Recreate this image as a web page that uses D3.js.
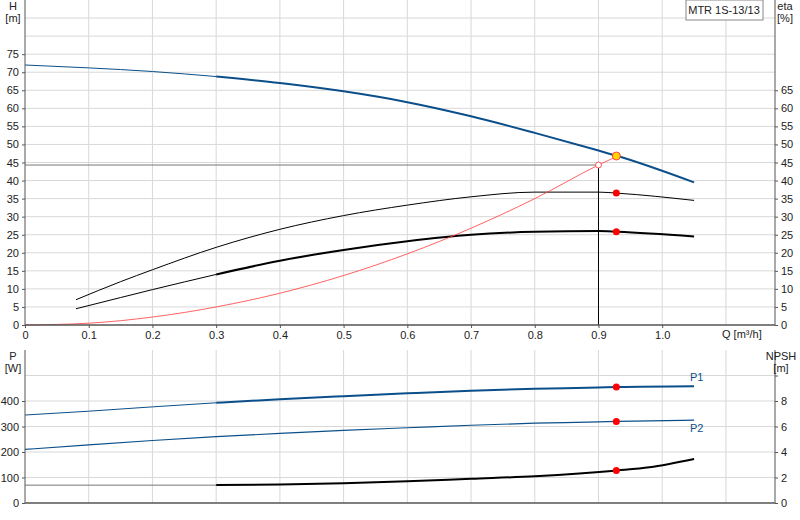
<!DOCTYPE html>
<html><head><meta charset="utf-8">
<script src="https://cdn.jsdelivr.net/npm/d3@7"></script>
<style>body{margin:0;background:#fff}text{font-family:"Liberation Sans",Arial,sans-serif;font-size:11px;fill:#222}</style>
</head><body><svg id="c" width="800" height="520"></svg>
<script>
// flow points (m3/h)
var q = [0, 0.1, 0.2, 0.3, 0.4, 0.5, 0.6, 0.7, 0.8, 0.9, 0.93, 1.05];
var head = [72, 71.2, 70.2, 68.8, 67, 64.7, 61.7, 57.8, 53.2, 48.3, 46.8, 39.5];
var qEta = [0.08, 0.15, 0.2, 0.3, 0.4, 0.5, 0.6, 0.7, 0.8, 0.9, 0.93, 1.05];
var etaHi = [7, 12, 15.3, 21.5, 26.5, 30.3, 33.2, 35.5, 36.8, 36.8, 36.5, 34.5];
var etaLo = [4.5, 7.6, 9.8, 14, 17.8, 20.8, 23.2, 25, 25.8, 26, 25.8, 24.5];
var qSys = [0, 0.1, 0.2, 0.3, 0.4, 0.5, 0.6, 0.7, 0.8, 0.9, 0.93];
var sys = [0, 0.5, 2.2, 5, 8.8, 13.7, 19.7, 26.8, 35, 44.3, 46.8];
var p1 = [345, 360, 377, 393, 407, 419, 430, 440, 448, 453, 455, 458];
var p2 = [210, 228, 245, 260, 273, 285, 295, 305, 313, 318, 320, 325];
var qN = [0.3, 0.4, 0.5, 0.6, 0.7, 0.8, 0.93, 0.98, 1.05];
var npsh = [1.42, 1.45, 1.55, 1.7, 1.9, 2.1, 2.55, 2.8, 3.45];
var qTicks = [0.1, 0.2, 0.3, 0.4, 0.5, 0.6, 0.7, 0.8, 0.9, 1.0];
var duty = {q: 0.9, h: 44.3}, op = 0.928;

var svg = d3.select('#c');
var x = d3.scaleLinear().domain([0, 1.177]).range([25, 775]);
var yH = d3.scaleLinear().domain([0, 90]).range([325, 0]);
var yP = d3.scaleLinear().domain([0, 600]).range([503, 350]);
var yN = d3.scaleLinear().domain([0, 12]).range([503, 350]);

function grid(y, vals, y0, y1) {
  d3.range(0.1, 1.18, 0.1).forEach(function(v){
    svg.append('line').attr('x1', x(v)).attr('x2', x(v)).attr('y1', y0).attr('y2', y1).attr('stroke', '#d8d8d8');
  });
  vals.forEach(function(v){
    svg.append('line').attr('x1', 25).attr('x2', 775).attr('y1', y(v)).attr('y2', y(v)).attr('stroke', '#d8d8d8');
  });
}
grid(yH, d3.range(5, 90, 5), 0, 325);
grid(yP, [100, 200, 300, 400, 500], 350, 503);

function line(xs, ys, sx, sy, color, w) {
  var pts = xs.map(function(d, i){ return [sx(d), sy(ys[i])]; });
  svg.append('path').attr('d', d3.line().curve(d3.curveMonotoneX)(pts))
    .attr('fill', 'none').attr('stroke', color).attr('stroke-width', w);
}
function split(xs, ys, sy, color) {
  var i = xs.indexOf(0.3);
  line(xs.slice(0, i + 1), ys.slice(0, i + 1), x, sy, color, 1);
  line(xs.slice(i), ys.slice(i), x, sy, color, 2);
}
function interp(xs, ys, v) { return d3.scaleLinear().domain(xs).range(ys)(v); }

// top chart
split(q, head, yH, '#0b4f8a');
line(qEta, etaHi, x, yH, '#000', 1);
split(qEta, etaLo, yH, '#000');
line(qSys, sys, x, yH, '#ff3b3b', 0.8);
svg.append('line').attr('x1', 25).attr('x2', x(duty.q)).attr('y1', yH(duty.h)).attr('y2', yH(duty.h)).attr('stroke', '#777');
svg.append('line').attr('x1', x(duty.q)).attr('x2', x(duty.q)).attr('y1', yH(duty.h)).attr('y2', 325).attr('stroke', '#000');
svg.append('circle').attr('cx', x(duty.q)).attr('cy', yH(duty.h)).attr('r', 3).attr('fill', '#fff').attr('stroke', '#f55');
[etaHi, etaLo].forEach(function(s){
  svg.append('circle').attr('cx', x(op)).attr('cy', yH(interp(qEta, s, op))).attr('r', 3.5).attr('fill', '#f00');
});
svg.append('circle').attr('cx', x(op)).attr('cy', yH(46.8)).attr('r', 4).attr('fill', '#ffd400').attr('stroke', '#f44');

// bottom chart
split(q, p1, yP, '#0b4f8a');
line(q, p2, x, yP, '#0b4f8a', 1.2);
svg.append('line').attr('x1', 25).attr('x2', x(0.3)).attr('y1', yN(1.4)).attr('y2', yN(1.4)).attr('stroke', '#777');
line(qN, npsh, x, yN, '#000', 2);
[interp(q, p1, op), interp(q, p2, op)].forEach(function(v){
  svg.append('circle').attr('cx', x(op)).attr('cy', yP(v)).attr('r', 3.5).attr('fill', '#f00');
});
svg.append('circle').attr('cx', x(op)).attr('cy', yN(interp(qN, npsh, op))).attr('r', 3.5).attr('fill', '#f00');
svg.append('text').attr('x', 690).attr('y', 381).text('P1').style('fill', '#0b4f8a');
svg.append('text').attr('x', 690).attr('y', 432).text('P2').style('fill', '#0b4f8a');

// axes
function frame(y0, y1) {
  svg.append('line').attr('x1', 25).attr('x2', 25).attr('y1', y0).attr('y2', y1).attr('stroke', '#555');
  svg.append('line').attr('x1', 775).attr('x2', 775).attr('y1', y0).attr('y2', y1).attr('stroke', '#555');
  svg.append('line').attr('x1', 25).attr('x2', 775).attr('y1', y1).attr('y2', y1).attr('stroke', '#555').attr('stroke-width', 1.5);
}
frame(0, 325); frame(350, 503);
svg.append('g').attr('transform', 'translate(25,0)')
  .call(d3.axisLeft(yH).tickValues(d3.range(0, 80, 5)).tickSize(3)).call(clean);
svg.append('g').attr('transform', 'translate(775,0)')
  .call(d3.axisRight(yH).tickValues(d3.range(0, 70, 5)).tickSize(3)).call(clean);
svg.append('g').attr('transform', 'translate(0,325)')
  .call(d3.axisBottom(x).tickValues([0].concat(qTicks)).tickSize(3).tickFormat(function(d){ return d === 0 ? '0' : d3.format('.1f')(d); })).call(clean);
svg.append('g').attr('transform', 'translate(25,0)')
  .call(d3.axisLeft(yP).tickValues([0, 100, 200, 300, 400]).tickSize(3)).call(clean);
svg.append('g').attr('transform', 'translate(775,0)')
  .call(d3.axisRight(yN).tickValues([0, 2, 4, 6, 8, 10]).tickSize(3).tickFormat(function(d){ return d === 10 ? '' : d; })).call(clean);
function clean(g) {
  g.select('.domain').remove();
  g.selectAll('line').attr('stroke', '#555');
  g.selectAll('text').style('font-family', '"Liberation Sans",Arial,sans-serif').style('font-size', '11px').attr('fill', '#222');
}

function label(t, xx, yy, anchor) {
  svg.append('text').attr('x', xx).attr('y', yy).attr('text-anchor', anchor || 'middle').text(t);
}
label('H', 13, 10); label('[m]', 13, 22);
label('eta', 785, 10); label('[%]', 785, 22);
label('Q [m³/h]', 722, 338, 'start');
label('P', 13, 360); label('[W]', 13, 372);
label('NPSH', 781, 360); label('[m]', 781, 372);
svg.append('rect').attr('x', 686).attr('y', 0).attr('width', 77).attr('height', 20).attr('fill', '#fff').attr('stroke', '#888');
label('MTR 1S-13/13', 724, 14);
</script></body></html>
